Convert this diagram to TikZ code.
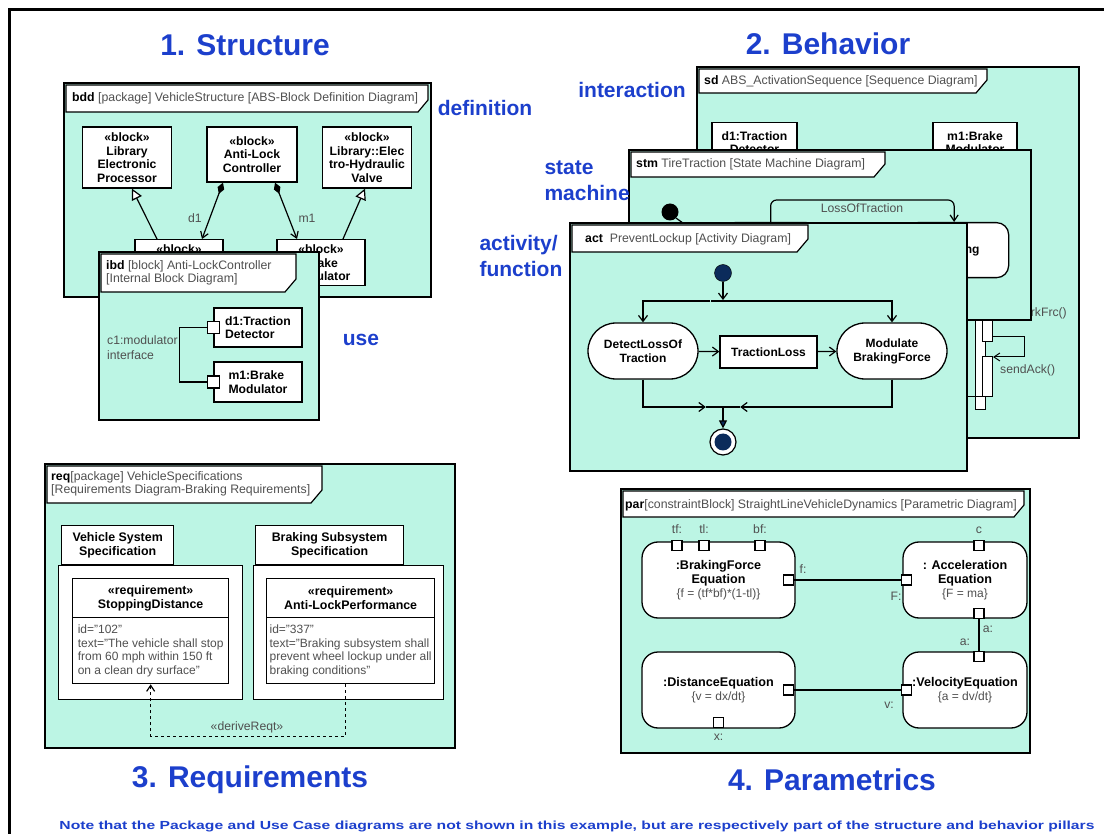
\documentclass[tikz,border=0pt]{standalone}
\usepackage{fontspec}
\setmainfont{Liberation Sans}
\usetikzlibrary{arrows.meta,positioning}
\definecolor{sysml}{HTML}{BCF5E4}
\definecolor{pillarblue}{HTML}{1C3FCC}
\definecolor{note}{HTML}{505050}
\definecolor{navy}{HTML}{0B2B5B}
\newcommand{\fsz}[2]{\fontsize{#1}{#2}\selectfont}
\tikzset{
  frame/.style={draw, line width=2.5pt, fill=sysml},
  tab/.style={draw, line width=1.2pt, fill=white},
  tabtext/.style={anchor=west, inner sep=0pt, font=\fsz{12.3}{13.5}, text=note, align=left},
  blk/.style={draw, line width=1.3pt, fill=white, align=center, inner sep=1pt, font=\bfseries\fsz{12.2}{13.5}},
  lbl/.style={inner sep=0pt, text=note, font=\fsz{12.2}{14.5}},
  pillar/.style={font=\bfseries\fsz{30}{36}, text=pillarblue},
  aspect/.style={font=\bfseries\fsz{21}{26}, text=pillarblue, align=left},
  port/.style={draw, line width=1.2pt, fill=white, minimum size=10pt, inner sep=0pt},
  actbar/.style={draw, line width=1pt, fill=white, minimum width=10pt, inner sep=0pt},
  wire/.style={line width=1.2pt},
  flow/.style={line width=1.2pt, -{Straight Barb[length=6pt,width=9pt]}},
  action/.style={blk, font=\bfseries\fsz{12}{14}, rounded corners=28pt, minimum width=110pt, minimum height=56pt},
  cblock/.style={blk, font=\bfseries\fsz{12.6}{14}, rounded corners=16pt},
  reqbody/.style={draw, line width=1.3pt, fill=white, minimum height=66pt, inner sep=1pt, anchor=north west, align=left, text=note, font=\fsz{12}{13.5}},
}
\begin{document}
\begin{tikzpicture}[x=1pt,y=-1pt]
\useasboundingbox (0,0) rectangle (1104,834);
\draw[line width=3pt] (9,834) -- (9,10) -- (1104,10);

% 1. structure: bdd
\draw[frame] (64,83) rectangle (431,297);
\draw[tab] (66,85) -- (428,85) -- (428,100) -- (418,112) -- (66,112) -- cycle;
\node[tabtext] (bddtab) at (72,98) {\textbf{\color{black}bdd} [package] VehicleStructure [ABS-Block Definition Diagram]};

\node[blk, minimum width=89pt, minimum height=61pt] (lep) at (127,157.5) {«block»\\Library\\Electronic\\Processor};
\node[blk, minimum width=90pt, minimum height=55pt] (alc) at (252,154.5) {«block»\\Anti-Lock\\Controller};
\node[blk, minimum width=89pt, minimum height=61pt] (ehv) at (367,157.5) {«block»\\Library::Elec\\tro-Hydraulic\\Valve};
\node[blk, minimum width=88pt, minimum height=46pt, anchor=north] (tdb) at (179,239) {«block»\\\phantom{Traction}\\\phantom{Detector}};
\node[blk, minimum width=88pt, minimum height=46pt, anchor=north] (bmb) at (321,239) {«block»\\Brake\\Modulator};

\draw[wire, -{Triangle[fill=white, length=11pt, width=11pt]}] ([xshift=-22pt]tdb.north) -- ([xshift=5pt]lep.south);
\draw[wire, -{Triangle[fill=white, length=11pt, width=11pt]}] ([xshift=22pt]bmb.north) -- ([xshift=-2pt]ehv.south);
\draw[wire, {Diamond[length=12pt, width=7pt]}-{Straight Barb[length=6pt, width=8pt]}] ([xshift=-29pt]alc.south) -- ([xshift=23pt]tdb.north);
\draw[wire, {Diamond[length=12pt, width=7pt]}-{Straight Barb[length=6pt, width=8pt]}] ([xshift=23pt]alc.south) -- ([xshift=-24pt]bmb.north);
\node[lbl] (d1) at (195,218) {d1};
\node[lbl] (m1) at (307,218) {m1};

% ibd
\draw[frame] (99,252) rectangle (319,420);
\draw[tab] (101,254) -- (296,254) -- (296,279) -- (285,292) -- (101,292) -- cycle;
\node[tabtext] (ibdtab) at (106,273) {\textbf{\color{black}ibd} [block] Anti-LockController\\{[}Internal Block Diagram]};
\node[blk, minimum width=88pt, minimum height=39pt, align=left] (dpart) at (258,327.5) {d1:Traction\\Detector};
\node[blk, minimum width=88pt, minimum height=40pt, align=left] (mpart) at (258,382) {m1:Brake\\Modulator};
\node[port, minimum size=12pt] (dport) at (dpart.west) {};
\node[port, minimum size=12pt] (mport) at (mpart.west) {};
\draw[wire] (dport.west) -- ++(-27,0) |- (mport.west);
\node[lbl, anchor=west, align=left] (c1) at (107,347.5) {c1:modulator\\interface};

% 2. behavior: sd
\draw[frame] (697,67) rectangle (1079,438);
\draw[tab] (699,69) -- (987,69) -- (987,80) -- (976,93) -- (699,93) -- cycle;
\node[tabtext] (sdtab) at (704,81) {\textbf{\color{black}sd} ABS\_ActivationSequence [Sequence Diagram]};
\node[blk, minimum width=85pt, minimum height=40pt, anchor=north] (dlife) at (754.5,122) {d1:Traction\\Detector};
\node[blk, minimum width=84pt, minimum height=40pt, anchor=north] (mlife) at (975,122) {m1:Brake\\Modulator};
\node[actbar, minimum height=110pt, anchor=south west] (bar1) at (975,410) {};
\node[actbar, minimum height=42pt, anchor=south west] (bar2) at (982,342) {};
\node[actbar, minimum height=40pt, anchor=south west] (bar3) at (982,397) {};
\draw[line width=1pt, -{Straight Barb[length=6pt, width=8pt]}] ([yshift=5pt]bar2.south east) -- ++(31,0) |- ([yshift=-1pt]bar3.north east);
\draw[line width=1pt] (bar3.south east) -- (940,397);
\node[lbl, anchor=east] (brkfrc) at (1067,313) {modulateBrkFrc()};
\node[lbl, anchor=west] (sendack) at (1000,370) {sendAck()};

% stm
\draw[frame] (629,150) rectangle (1031,320);
\draw[tab] (631,152) -- (885,152) -- (885,164) -- (874,177) -- (631,177) -- cycle;
\node[tabtext] (stmtab) at (636,164) {\textbf{\color{black}stm} TireTraction [State Machine Diagram]};
\node[blk, rounded corners=12pt, minimum width=96pt, minimum height=55pt, anchor=north west] (grip) at (722,222) {};
\node[blk, font=\bfseries\fsz{12}{14}, rounded corners=12pt, minimum width=103pt, minimum height=55pt, anchor=north west] (braking) at (905,222) {Braking};
\node[circle, fill=black, minimum size=17pt, inner sep=0pt] (stminit) at (670,212) {};
\draw[wire] (stminit.south east) -- ++(14,10);
\draw[wire, rounded corners=6pt, -{Straight Barb[length=6pt, width=8pt]}] (grip.north) -- ++(0,-22) -| ([xshift=-3pt]braking.north);
\node[lbl] (lot) at (862,208) {LossOfTraction};

% act
\draw[frame] (570,223) rectangle (967,471);
\draw[tab] (572,225) -- (808,225) -- (808,239) -- (797,252) -- (572,252) -- cycle;
\node[tabtext] (acttab) at (585,239) {\textbf{\color{black}act}\ \ PreventLockup [Activity Diagram]};
\node[circle, fill=navy, draw=black, minimum size=17pt, inner sep=0pt] (actinit) at (723,273) {};
\node[fill=black, minimum width=25pt, minimum height=1.5pt, inner sep=0pt] (forkbar) at (723,301) {};
\node[action] (detect) at (643,351) {DetectLossOf\\Traction};
\node[blk, font=\bfseries\fsz{12}{14}, minimum width=97pt, minimum height=32pt] (tloss) at (768.5,352) {TractionLoss};
\node[action] (modulate) at (892,351) {Modulate\\BrakingForce};
\node[fill=black, minimum width=34pt, minimum height=1.2pt, inner sep=0pt] (joinbar) at (723,407) {};
\node[circle, draw=black, line width=1.2pt, fill=white, minimum size=26pt, inner sep=0pt] (actfinal) at (723,442) {};
\node[circle, fill=navy, minimum size=17pt, inner sep=0pt] (actfinaldot) at (actfinal) {};
\draw[flow] (actinit) -- (forkbar);
\draw[flow] (forkbar) -| (detect);
\draw[flow] (forkbar) -| (modulate);
\draw[flow] (detect) -- (tloss);
\draw[flow] (tloss) -- (modulate);
\draw[flow] (detect) |- (joinbar);
\draw[flow] (modulate) |- (joinbar);
\draw[line width=1.2pt, -{Triangle[length=8pt, width=8pt, fill=navy]}] (joinbar) -- (actfinal);

% 3. requirements
\draw[frame] (45,464) rectangle (455,748);
\draw[tab] (47,466) -- (322,466) -- (322,490) -- (311,503) -- (47,503) -- cycle;
\node[tabtext] (reqtab) at (51,484) {\textbf{\color{black}req}[package] VehicleSpecifications\\{[}Requirements Diagram-Braking Requirements]};

\node[draw, line width=1.3pt, fill=white, minimum width=184pt, minimum height=134pt, anchor=north west] (vss) at (58,565) {};
\node[blk, font=\bfseries\fsz{12.4}{14}, minimum width=112pt, minimum height=39pt, anchor=south west] (vsstab) at (61,565) {Vehicle System\\Specification};
\node[draw, line width=1.3pt, fill=white, minimum width=190pt, minimum height=134pt, anchor=north west] (bss) at (253,565) {};
\node[blk, font=\bfseries\fsz{12.4}{14}, minimum width=148pt, minimum height=39pt, anchor=south west] (bsstab) at (255,565) {Braking Subsystem\\Specification};

\node[blk, font=\bfseries\fsz{12.4}{14.5}, minimum width=156pt, minimum height=39pt, anchor=north west] (sdhead) at (72,578) {«requirement»\\StoppingDistance};
\node[reqbody, minimum width=156pt] (sdbody) at (72,617) {id="102"\\text="The vehicle shall stop\\from 60 mph within 150 ft\\on a clean dry surface"};
\node[blk, font=\bfseries\fsz{12.4}{14.5}, minimum width=168pt, minimum height=39pt, anchor=north west] (alhead) at (266,578) {«requirement»\\Anti-LockPerformance};
\node[reqbody, minimum width=168pt] (albody) at (266,617) {id="337"\\text="Braking subsystem shall\\prevent wheel lockup under all\\braking conditions"};
\draw[wire, dashed, -{Straight Barb[length=6pt, width=8pt]}] ([xshift=-5pt]albody.south) -- ++(0,52) -| (sdbody.south);
\node[lbl] (derive) at (247,727) {«deriveReqt»};

% 4. parametrics
\draw[frame] (621,489) rectangle (1030,753);
\draw[tab] (623,491) -- (1024,491) -- (1024,505) -- (1014,517) -- (623,517) -- cycle;
\node[tabtext] (partab) at (625,505) {\textbf{\color{black}par}[constraintBlock] StraightLineVehicleDynamics [Parametric Diagram]};

\node[cblock, minimum width=153pt, minimum height=76pt] (bfeq) at (718.5,580) {:BrakingForce\\Equation\\\textmd{\color{note}\fsz{12}{14}\{f = (tf*bf)*(1-tl)\}}};
\node[cblock, minimum width=124pt, minimum height=76pt] (acceq) at (965,580) {: Acceleration\\Equation\\\textmd{\color{note}\fsz{12}{14}\{F = ma\}}};
\node[cblock, minimum width=153pt, minimum height=76pt] (disteq) at (718.5,690) {:DistanceEquation\\\textmd{\color{note}\fsz{12}{14}\{v = dx/dt\}}};
\node[cblock, minimum width=124pt, minimum height=76pt] (veleq) at (965,690) {:VelocityEquation\\\textmd{\color{note}\fsz{12}{14}\{a = dv/dt\}}};

\node[port] (ptf) at ([xshift=-41.5pt, yshift=-4pt]bfeq.north) {};
\node[port] (ptl) at ([xshift=-14.5pt, yshift=-4pt]bfeq.north) {};
\node[port] (pbf) at ([xshift=41.5pt, yshift=-4pt]bfeq.north) {};
\node[port] (pf) at ([xshift=-7pt]bfeq.east) {};
\node[port] (pF) at ([xshift=4pt]acceq.west) {};
\node[port] (pc) at ([xshift=14pt, yshift=-4pt]acceq.north) {};
\node[port] (pa) at ([xshift=14pt, yshift=5pt]acceq.south) {};
\node[port] (pva) at ([xshift=14pt, yshift=-5pt]veleq.north) {};
\node[port] (pv) at ([xshift=4pt]veleq.west) {};
\node[port] (pdv) at ([xshift=-7pt]disteq.east) {};
\node[port] (px) at ([yshift=6pt]disteq.south) {};

\node[lbl, above=6pt of ptf] (ltf) {tf:};
\node[lbl, above=6pt of ptl] (ltl) {tl:};
\node[lbl, above=6pt of pbf] (lbf) {bf:};
\node[lbl] (lf) at (803,569) {f:};
\node[lbl] (lF) at (896,596) {F:};
\node[lbl, above=6pt of pc] (lc) {c};
\node[lbl] (la) at (988,629) {a:};
\node[lbl] (lva) at (965,642) {a:};
\node[lbl] (lv) at (889,705) {v:};
\node[lbl, below=6pt of px] (lx) {x:};

\draw[wire] (pf) -- (pF);
\draw[wire] (pa) -- (pva);
\draw[wire] (pdv) -- (pv);

% pillar titles
\node[pillar] (structure) at (245,45) {1. Structure};
\node[pillar] (behavior) at (828,44) {2. Behavior};
\node[pillar] (requirements) at (250,780) {3. Requirements};
\node[pillar] (parametrics) at (832,780) {4. Parametrics};
\node[aspect] (definition) at (485,108) {definition};
\node[aspect] (interaction) at (632,90) {interaction};
\node[aspect, anchor=west] (statemachine) at (541,181) {state\\machine};
\node[aspect, anchor=west] (activity) at (476,255.5) {activity/\\function};
\node[aspect] (use) at (361,340) {use};
\node[text=pillarblue, inner sep=0pt] (footnote) at (577,826) {\resizebox{1035pt}{8.5pt}{\bfseries Note that the Package and Use Case diagrams are not shown in this example, but are respectively part of the structure and behavior pillars}};
\end{tikzpicture}
\end{document}
